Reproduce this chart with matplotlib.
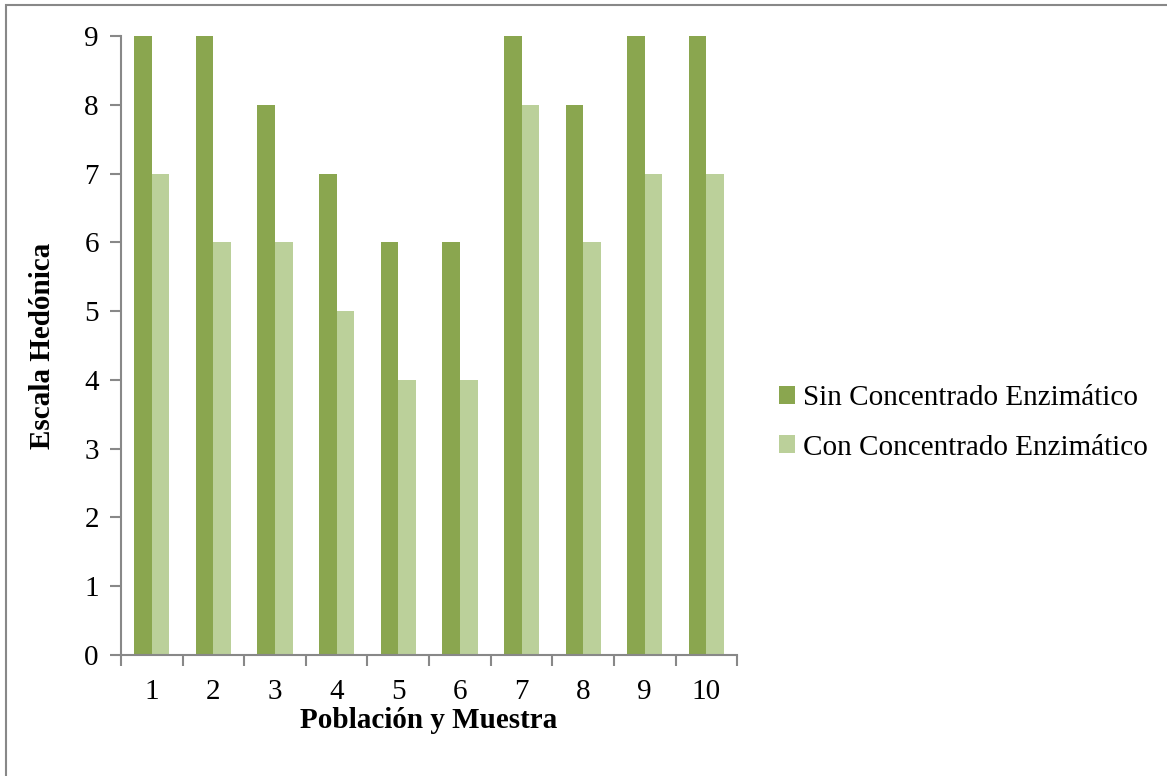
import numpy as np
import matplotlib.pyplot as plt
from matplotlib.patches import Rectangle

plt.rcParams['font.family'] = ['Liberation Serif', 'DejaVu Serif']

muestras = ['1', '2', '3', '4', '5', '6', '7', '8', '9', '10']
sin_enzima = [9, 9, 8, 7, 6, 6, 9, 8, 9, 9]
con_enzima = [7, 6, 6, 5, 4, 4, 8, 6, 7, 7]

color_sin = '#8aa64f'
color_con = '#bbd09a'

fig = plt.figure(figsize=(11.67, 7.76), dpi=100)
ax = fig.add_axes([0.1037, 0.156, 0.528, 0.7976])

x = np.arange(len(muestras))
w = 1 / 3.5  # gap width 150%
ax.bar(x - w / 2, sin_enzima, w, color=color_sin, label='Sin Concentrado Enzimático')
ax.bar(x + w / 2, con_enzima, w, color=color_con, label='Con Concentrado Enzimático')

ax.set_xlim(-0.5, len(muestras) - 0.5)
ax.set_ylim(0, 9)
ax.set_yticks(range(0, 10))
ax.set_xticks(x)
ax.set_xticklabels(muestras)
ax.set_xticks(np.arange(-0.5, len(muestras)), minor=True)

for s in ['top', 'right']:
    ax.spines[s].set_visible(False)
for s in ['left', 'bottom']:
    ax.spines[s].set_color('#888888')
    ax.spines[s].set_linewidth(1.5)

ax.tick_params(axis='y', length=8, width=1.5, color='#888888', labelsize=21, pad=8)
ax.tick_params(axis='x', which='major', length=0, labelsize=21, pad=17)
ax.tick_params(axis='x', which='minor', length=8, width=1.5, color='#888888')

ax.set_xlabel('Población y Muestra', fontsize=21, fontweight='bold', labelpad=2)
ax.set_ylabel('Escala Hedónica', fontsize=21, fontweight='bold', labelpad=20)

fig.legend(loc='center left', bbox_to_anchor=(779 / 1167, 0.455), frameon=False,
           fontsize=21, handlelength=0.55, handleheight=0.55, handletextpad=0.28,
           labelspacing=0.8, borderpad=0, borderaxespad=0)

fig.patches.append(Rectangle((6 / 1167, -0.05), 1.1, 0.05 + 1 - 5 / 776,
                             transform=fig.transFigure, fill=False,
                             edgecolor='#888888', linewidth=1.5))

fig.savefig('out.png', dpi=100)
